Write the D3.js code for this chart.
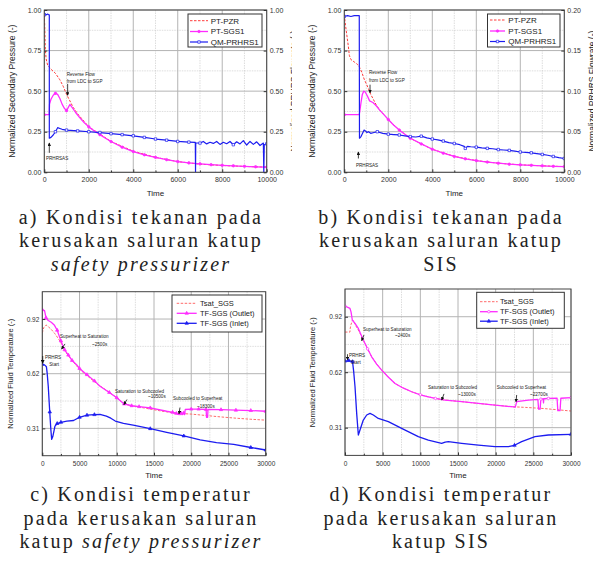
<!DOCTYPE html>
<html>
<head>
<meta charset="utf-8">
<script src="https://cdn.jsdelivr.net/npm/d3@7"></script>
<style>
  body { margin: 0; background: #fff; }
  svg { display: block; }
  .caption { font-family: "Liberation Serif", "Times New Roman", serif; font-size: 20px; letter-spacing: 2.2px; fill: #222; }
  .lbl { font-family: "Liberation Sans", Arial, sans-serif; fill: #222; }
</style>
</head>
<body>
<script>
// ---- data: [time, value] ----

// a) pressure, safety pressurizer break
var aPZR = [[0,0.97],[20,0.9],[45,0.76],[80,0.70],[150,0.66],[300,0.635],[500,0.61],[700,0.57],[850,0.53],
  [1000,0.48],[1150,0.44],[1300,0.40],[1500,0.36],[2000,0.28],[2500,0.235],[3000,0.19],[4000,0.13],
  [5000,0.092],[6000,0.066],[7000,0.05],[8000,0.042],[9000,0.036],[10000,0.032]];
var aSGS = [[0,0.355],[220,0.355],[235,0.42],[300,0.45],[400,0.475],[500,0.487],[600,0.48],[700,0.455],
  [800,0.42],[900,0.395],[1000,0.38],[1080,0.40],[1150,0.418],[1250,0.40],[1400,0.37],[1600,0.335],
  [1800,0.305],[2000,0.28],[2250,0.255],[2500,0.232],[2750,0.21],[3000,0.19],[3500,0.155],[4000,0.128],
  [4500,0.108],[5000,0.092],[5500,0.078],[6000,0.066],[6500,0.058],[7000,0.052],[7500,0.047],[8000,0.043],
  [8500,0.04],[9000,0.037],[9500,0.034],[10000,0.032]];
var aQM = [[0,0.97],[50,0.975],[100,0.97],[150,0.975],[200,0.97],[225,0.97],[226,0.21],[300,0.215],[400,0.23],
  [500,0.25],[600,0.275],[700,0.27],[800,0.265],[1000,0.26],[1500,0.255],[2000,0.25],[2500,0.245],[3000,0.238],
  [3500,0.232],[4000,0.225],[4500,0.215],[5000,0.205],[5500,0.198],[6000,0.19],[6500,0.186],[6790,0.184],
  [6800,0],[6810,0.182],[7000,0.18],[7150,0.19],[7300,0.175],[7450,0.185],[7600,0.178],[7750,0.19],
  [7900,0.172],[8050,0.185],[8200,0.176],[8350,0.19],[8500,0.17],[8650,0.188],[8800,0.175],[8950,0.195],
  [9100,0.168],[9250,0.19],[9400,0.172],[9550,0.188],[9700,0.165],[9850,0.18],[9870,0],[9890,0.17],[10000,0.175]];

// b) pressure, SIS break (QM on the right axis, 0..0.2)
var bPZR = [[0,0.97],[60,0.9],[120,0.84],[180,0.78],[230,0.72],[300,0.695],[450,0.68],[600,0.665],[700,0.645],
  [800,0.615],[900,0.575],[1000,0.545],[1100,0.515],[1200,0.48],[1300,0.455],[1450,0.415],[1600,0.385],
  [2000,0.325],[2500,0.26],[3000,0.21],[3500,0.175],[4000,0.142],[5000,0.098],[6000,0.072],[7000,0.056],
  [8000,0.046],[9000,0.04],[10000,0.035]];
var bSGS = [[0,0.355],[680,0.355],[700,0.37],[760,0.43],[820,0.48],[880,0.5],[950,0.495],[1050,0.47],
  [1150,0.44],[1300,0.43],[1450,0.41],[1600,0.385],[1800,0.355],[2000,0.325],[2250,0.29],[2500,0.26],
  [2750,0.235],[3000,0.21],[3500,0.175],[4000,0.142],[4500,0.118],[5000,0.098],[5500,0.083],[6000,0.072],
  [6500,0.063],[7000,0.056],[7500,0.05],[8000,0.046],[8500,0.043],[9000,0.04],[9500,0.037],[10000,0.035]];
var bQM = [[0,0.192],[150,0.193],[300,0.192],[450,0.193],[600,0.193],[680,0.193],[690,0.042],[760,0.044],
  [830,0.048],[900,0.052],[960,0.051],[1030,0.049],[1100,0.050],[1200,0.048],[1350,0.049],[1500,0.050],
  [1750,0.048],[2000,0.047],[2250,0.0465],[2500,0.046],[2750,0.045],[3000,0.044],[3250,0.0435],[3500,0.0445],
  [3750,0.0425],[4000,0.041],[4250,0.040],[4500,0.0385],[4750,0.0365],[5000,0.0355],[5250,0.034],[5450,0.032],
  [5500,0.0295],[5600,0.032],[5750,0.0315],[6000,0.031],[6250,0.030],[6500,0.0295],[6750,0.029],[7000,0.028],
  [7250,0.0275],[7500,0.027],[7750,0.026],[8000,0.025],[8250,0.0245],[8500,0.024],[8750,0.023],[9000,0.022],
  [9250,0.021],[9500,0.0195],[9750,0.018],[10000,0.017]];

// c) temperature, safety pressurizer break
var cTsat = [[0,0.845],[200,0.875],[500,0.89],[800,0.88],[1200,0.865],[1700,0.84],[2200,0.81],[2500,0.79],
  [3000,0.745],[4000,0.69],[5000,0.64],[6000,0.605],[7000,0.57],[8000,0.54],[9000,0.51],[10000,0.48],
  [11000,0.445],[12000,0.435],[14000,0.42],[16000,0.405],[18000,0.393],[20000,0.388],[22000,0.38],
  [24000,0.372],[26000,0.365],[28000,0.359],[30000,0.354]];
var cOut = [[0,0.975],[300,0.97],[500,0.93],[800,0.915],[1200,0.905],[1600,0.89],[2000,0.86],[2500,0.8],
  [3000,0.75],[3500,0.72],[4000,0.69],[4600,0.666],[5000,0.645],[6000,0.61],[7000,0.575],[7750,0.545],
  [9000,0.51],[10000,0.48],[11000,0.445],[12000,0.435],[13000,0.43],[14500,0.423],[16700,0.404],[17500,0.398],
  [18000,0.392],[18300,0.386],[18500,0.39],[18700,0.40],[18800,0.385],[19000,0.395],[19100,0.385],
  [19200,0.414],[20000,0.416],[21000,0.416],[22000,0.414],[22050,0.37],[22200,0.37],[22250,0.414],
  [24000,0.413],[26000,0.41],[28000,0.408],[30000,0.404]];
var cIn = [[0,0.668],[300,0.665],[550,0.655],[650,0.62],[800,0.545],[1000,0.4],[1150,0.3],[1260,0.246],
  [1400,0.26],[1550,0.29],[1700,0.32],[2000,0.335],[2500,0.342],[3300,0.348],[4200,0.352],[5000,0.37],
  [6000,0.382],[7000,0.385],[7750,0.387],[8600,0.377],[9200,0.365],[9800,0.349],[10900,0.336],[12200,0.326],
  [14500,0.306],[16700,0.285],[19000,0.265],[21200,0.243],[23400,0.228],[25700,0.218],[28000,0.2],[30000,0.186]];

// d) temperature, SIS break
var dTsat = [[0,0.838],[650,0.838],[700,0.86],[800,0.88],[1000,0.905],[1200,0.895],[1400,0.875],[1700,0.855],
  [2000,0.83],[2430,0.794],[3000,0.745],[3540,0.701],[4200,0.66],[4870,0.627],[5700,0.59],[6640,0.553],
  [7700,0.528],[8850,0.507],[10000,0.49],[11060,0.479],[12000,0.47],[13270,0.461],[15490,0.452],[17700,0.442],
  [19910,0.433],[22120,0.424],[24000,0.42],[26000,0.415],[28000,0.408],[30000,0.40]];
var dOut = [[0,0.982],[660,0.969],[800,0.95],[970,0.905],[1330,0.886],[1770,0.858],[2430,0.794],[3000,0.745],
  [3540,0.701],[4200,0.66],[4870,0.627],[5700,0.59],[6640,0.553],[7700,0.528],[8850,0.507],[10000,0.49],
  [11060,0.479],[12000,0.47],[13270,0.461],[15490,0.452],[17700,0.442],[19910,0.433],[22120,0.424],
  [22600,0.422],[22800,0.452],[24340,0.461],[25600,0.465],[25700,0.41],[25900,0.41],[26000,0.466],
  [26300,0.468],[26350,0.445],[26400,0.468],[27000,0.47],[28150,0.471],[28250,0.402],[28550,0.402],
  [28650,0.471],[30000,0.474]];
var dIn = [[0,0.677],[500,0.68],[1000,0.674],[1150,0.62],[1330,0.535],[1550,0.387],[1770,0.267],[1990,0.295],
  [2430,0.35],[2880,0.378],[3320,0.387],[3760,0.378],[4420,0.359],[5750,0.341],[7520,0.304],[9730,0.258],
  [11060,0.239],[12830,0.221],[13300,0.228],[13720,0.23],[15490,0.221],[17700,0.211],[19910,0.202],
  [21680,0.202],[22500,0.21],[23450,0.23],[25220,0.258],[26990,0.267],[30000,0.271]];

// tick values
var pressTicks = [0, 0.25, 0.5, 0.75, 1];
var flowTicksB = [0, 0.05, 0.10, 0.15, 0.20];
var tempTicks = [100, 200, 300].map(function(v) { return v / 325; });   // 0.31, 0.62, 0.92
var tempMinor = [150, 250].map(function(v) { return v / 325; });

// annotations: text lines [label, time, value], arrow [[t,v],[t,v]]
var annA = [
  { lines: [['Reverse Flow', 1010, 0.606], ['from LDC to SGP', 1010, 0.5625]], arrow: [[1050, 0.545], [1050, 0.475]] },
  { lines: [['PRHRSAS', 76, 0.087]], arrow: [[225, 0.12], [225, 0.18]] }
];
var annB = [
  { lines: [['Reverse Flow', 1123, 0.617], ['from LDC to SGP', 1123, 0.569]], arrow: [[1170, 0.54], [1170, 0.49]] },
  { lines: [['PRHRSAS', 530, 0.045]], arrow: [[640, 0.085], [640, 0.125]] }
];
var annC = [
  { lines: [['Superheat to Saturation', 2380, 0.824], ['~2500s', 6680, 0.783]], arrow: [[3050, 0.783], [2600, 0.755]] },
  { lines: [['PRHRS', 360, 0.709], ['Start', 940, 0.67]], arrow: [[60, 0.715], [60, 0.675]] },
  { lines: [['Saturation to Subcooled', 9760, 0.516], ['~10500s', 14190, 0.487]], arrow: [[11370, 0.47], [10970, 0.442]] },
  { lines: [['Subcooled to Superheat', 17550, 0.475], ['~18300s', 20770, 0.432]], arrow: [[18490, 0.425], [18360, 0.39]] }
];
var annD = [
  { lines: [['Superheat to Saturation', 2390, 0.855], ['~2400s', 6640, 0.818]], arrow: [[2520, 0.822], [2220, 0.79]] },
  { lines: [['PRHRS', 530, 0.71], ['Start', 800, 0.672]], arrow: [[330, 0.715], [330, 0.685]] },
  { lines: [['Saturation to Subcooled', 11020, 0.532], ['~13000s', 15000, 0.495]], arrow: [[13140, 0.495], [12840, 0.461]] },
  { lines: [['Subcooled to Superheat', 20140, 0.532], ['~22700s', 24560, 0.495]], arrow: [[22790, 0.489], [22700, 0.452]] }
];

var captionA = [[['a) Kondisi tekanan pada', false]], [['kerusakan saluran katup', false]], [['safety pressurizer', true]]];
var captionB = [[['b) Kondisi tekanan pada', false]], [['kerusakan saluran katup', false]], [['SIS', false]]];
var captionC = [[['c) Kondisi temperatur', false]], [['pada kerusakan saluran', false]], [['katup ', false], ['safety pressurizer', true]]];
var captionD = [[['d) Kondisi temperatur', false]], [['pada kerusakan saluran', false]], [['katup SIS', false]]];

var RED = '#ff3a3a', PINK = '#ff2cff', BLUE = '#1c1cf0';
var every500 = function(d) { return d[0] % 500 === 0; };

var svg = d3.select('body').append('svg').attr('width', 593).attr('height', 566);
var defs = svg.append('defs');
defs.append('marker').attr('id', 'arrow')
  .attr('viewBox', '0 0 6 6').attr('refX', 5).attr('refY', 3)
  .attr('markerWidth', 4.5).attr('markerHeight', 4.5).attr('orient', 'auto')
  .append('path').attr('d', 'M0,0L6,3L0,6Z').attr('fill', '#111');

var panels = [
  { id: 'a', left: 44.3, right: 266.7, top: 10, bottom: 172.3,
    xDomain: [0, 10000], xMajor: d3.range(0, 10001, 2000), xMinor: d3.range(1000, 10000, 2000),
    yDomain: [0, 1], yMajor: pressTicks, yMinor: [0.125, 0.375, 0.625, 0.875],
    y2Domain: [0, 1], y2Ticks: pressTicks, tickFont: 7, xPad: 5,
    ytitle: 'Normalized Secondary Pressure (-)', ytitleX: 12, ytitleFont: 8.5,
    y2title: 'Normalized PRHRS Flowrate (-)', y2titleX: 296.5, y2clip: [284, 292],
    timeY: 196, ann: annA,
    series: [
      { data: aPZR, color: RED, width: 1, dash: '2.5,1.5', label: 'PT-PZR' },
      { data: aSGS, color: PINK, width: 1.3, sym: d3.symbolCircle, size: 5, fill: PINK, markAt: every500, label: 'PT-SGS1' },
      { data: aQM, color: BLUE, width: 1.2, sym: d3.symbolSquare, size: 6, fill: '#fff', markAt: every500, label: 'QM-PRHRS1' }
    ],
    legend: { x: 188, y: 14, w: 74, h: 33, rows: [20.7, 31.5, 42], lx0: 190, lx1: 208, tx: 210.7, font: 8 } },
  { id: 'b', left: 344.3, right: 564.3, top: 10, bottom: 172.3,
    xDomain: [0, 10000], xMajor: d3.range(0, 10001, 2000), xMinor: d3.range(1000, 10000, 2000),
    yDomain: [0, 1], yMajor: pressTicks, yMinor: [0.125, 0.375, 0.625, 0.875],
    y2Domain: [0, 0.2], y2Ticks: flowTicksB, tickFont: 7, xPad: 5,
    ytitle: 'Normalized Secondary Pressure (-)', ytitleX: 311.7, ytitleFont: 8.5,
    y2title: 'Normalized PRHRS Flowrate (-)', y2titleX: 594.5, y2clip: [570, 593],
    timeY: 196, ann: annB,
    series: [
      { data: bPZR, color: RED, width: 1, dash: '2.5,1.5', label: 'PT-PZR' },
      { data: bSGS, color: PINK, width: 1.3, sym: d3.symbolCircle, size: 5, fill: PINK, markAt: every500, label: 'PT-SGS1' },
      { data: bQM, color: BLUE, width: 1.2, axis: 'y2', sym: d3.symbolSquare, size: 6, fill: '#fff', markAt: every500, label: 'QM-PRHRS1' }
    ],
    legend: { x: 487.5, y: 14, w: 72.5, h: 33, rows: [20, 31, 41.5], lx0: 490, lx1: 505, tx: 508.3, font: 8 } },
  { id: 'c', left: 42.3, right: 265.7, top: 291.7, bottom: 455.7,
    xDomain: [0, 30000], xMajor: d3.range(0, 30001, 5000), xMinor: d3.range(2500, 30000, 5000),
    yDomain: [50 / 325, 350 / 325], yMajor: tempTicks, yMinor: tempMinor,
    tickFont: 6.5, xPad: 6,
    ytitle: 'Normalized Fluid Temperature (-)', ytitleX: 10, ytitleFont: 7.5,
    timeY: 478, ann: annC,
    series: [
      { data: cTsat, color: '#ff6a6a', width: 1, dash: '2.5,1.5', label: 'Tsat_SGS' },
      { data: cOut, color: PINK, width: 1.3, sym: d3.symbolTriangle, size: 5, fill: PINK, markAt: every500, label: 'TF-SGS (Outlet)' },
      { data: cIn, color: BLUE, width: 1.3, sym: d3.symbolTriangle, size: 5, fill: BLUE, markAt: every500, label: 'TF-SGS (Inlet)' }
    ],
    legend: { x: 172, y: 295, w: 90, h: 37, rows: [303.3, 313.3, 323.3], lx0: 176.7, lx1: 196.7, tx: 200, font: 7.5 } },
  { id: 'd', left: 345, right: 571, top: 289, bottom: 455.4,
    xDomain: [0, 30000], xMajor: d3.range(0, 30001, 5000), xMinor: d3.range(2500, 30000, 5000),
    yDomain: [50 / 325, 350 / 325], yMajor: tempTicks, yMinor: tempMinor,
    tickFont: 6.5, xPad: 6,
    ytitle: 'Normalized Fluid Temperature (-)', ytitleX: 312, ytitleFont: 7.5,
    timeY: 478, ann: annD,
    series: [
      { data: dTsat, color: '#ff6a6a', width: 1, dash: '2.5,1.5', label: 'Tsat_SGS' },
      { data: dOut, color: PINK, width: 1.3, sym: d3.symbolCircle, size: 5, fill: '#fff', markAt: every500, label: 'TF-SGS (Outlet)' },
      { data: dIn, color: BLUE, width: 1.3, sym: d3.symbolTriangle, size: 5, fill: BLUE, markAt: every500, label: 'TF-SGS (Inlet)' }
    ],
    legend: { x: 476.7, y: 292.3, w: 87.6, h: 36, rows: [301.7, 311.7, 321.2], lx0: 480, lx1: 497.7, tx: 500, font: 7.5 } }
];

function styleAxis(sel, font) {
  sel.select('.domain').remove();
  sel.attr('font-family', '"Liberation Sans", Arial, sans-serif').attr('font-size', font);
  sel.selectAll('.tick line').attr('stroke', '#333');
  sel.selectAll('.tick text').attr('fill', '#333');
}

function drawPanel(p) {
  var x = d3.scaleLinear().domain(p.xDomain).range([p.left, p.right]);
  var y = d3.scaleLinear().domain(p.yDomain).range([p.bottom, p.top]);
  var y2 = p.y2Domain ? d3.scaleLinear().domain(p.y2Domain).range([p.bottom, p.top]) : y;
  var g = svg.append('g');

  // grid
  var grid = g.append('g');
  grid.selectAll('.vmin').data(p.xMinor).join('line')
    .attr('x1', function(d) { return x(d); }).attr('x2', function(d) { return x(d); })
    .attr('y1', p.top).attr('y2', p.bottom)
    .attr('stroke', '#cfcfcf').attr('stroke-width', 0.7).attr('stroke-dasharray', '1.5,1');
  grid.selectAll('.hmin').data(p.yMinor).join('line')
    .attr('x1', p.left).attr('x2', p.right)
    .attr('y1', function(d) { return y(d); }).attr('y2', function(d) { return y(d); })
    .attr('stroke', '#cfcfcf').attr('stroke-width', 0.7).attr('stroke-dasharray', '1.5,1');
  grid.selectAll('.vmaj').data(p.xMajor).join('line')
    .attr('x1', function(d) { return x(d); }).attr('x2', function(d) { return x(d); })
    .attr('y1', p.top).attr('y2', p.bottom)
    .attr('stroke', '#b4b4b4').attr('stroke-width', 1);
  grid.selectAll('.hmaj').data(p.yMajor).join('line')
    .attr('x1', p.left).attr('x2', p.right)
    .attr('y1', function(d) { return y(d); }).attr('y2', function(d) { return y(d); })
    .attr('stroke', '#b4b4b4').attr('stroke-width', 1);

  // series
  defs.append('clipPath').attr('id', 'clip-' + p.id).append('rect')
    .attr('x', p.left).attr('y', p.top - 2).attr('width', p.right - p.left).attr('height', p.bottom - p.top + 2);
  var plot = g.append('g').attr('clip-path', 'url(#clip-' + p.id + ')');
  p.series.forEach(function(s) {
    var ys = s.axis === 'y2' ? y2 : y;
    var line = d3.line().x(function(d) { return x(d[0]); }).y(function(d) { return ys(d[1]); });
    plot.append('path').datum(s.data).attr('d', line)
      .attr('fill', 'none').attr('stroke', s.color).attr('stroke-width', s.width)
      .attr('stroke-dasharray', s.dash || null).attr('stroke-linejoin', 'round');
    if (s.sym) {
      plot.append('g').selectAll('path').data(s.data.filter(s.markAt)).join('path')
        .attr('transform', function(d) { return 'translate(' + x(d[0]) + ',' + ys(d[1]) + ')'; })
        .attr('d', d3.symbol().type(s.sym).size(s.size))
        .attr('fill', s.fill).attr('stroke', s.color).attr('stroke-width', 0.7);
    }
  });

  // frame
  g.append('rect').attr('x', p.left).attr('y', p.top)
    .attr('width', p.right - p.left).attr('height', p.bottom - p.top)
    .attr('fill', 'none').attr('stroke', '#444').attr('stroke-width', 1);

  // axes
  g.append('g').attr('transform', 'translate(0,' + p.bottom + ')')
    .call(d3.axisBottom(x).tickValues(p.xMajor).tickFormat(d3.format('d')).tickSizeInner(-3).tickSizeOuter(0).tickPadding(p.xPad))
    .call(styleAxis, p.tickFont);
  g.append('g').attr('transform', 'translate(0,' + p.bottom + ')')
    .call(d3.axisBottom(x).tickValues(p.xMinor).tickFormat('').tickSizeInner(-1.8).tickSizeOuter(0))
    .call(styleAxis, p.tickFont);
  g.append('g').attr('transform', 'translate(' + p.left + ',0)')
    .call(d3.axisLeft(y).tickValues(p.yMajor).tickFormat(d3.format('.2f')).tickSizeInner(-3).tickSizeOuter(0).tickPadding(3))
    .call(styleAxis, p.tickFont);
  if (p.y2Ticks) {
    g.append('g').attr('transform', 'translate(' + p.right + ',0)')
      .call(d3.axisRight(y2).tickValues(p.y2Ticks).tickFormat(d3.format('.2f')).tickSizeInner(-3).tickSizeOuter(0).tickPadding(3))
      .call(styleAxis, p.tickFont);
  }

  // titles
  var midY = (p.top + p.bottom) / 2;
  g.append('text').attr('class', 'lbl')
    .attr('transform', 'translate(' + p.ytitleX + ',' + midY + ') rotate(-90)')
    .attr('text-anchor', 'middle').attr('dy', '0.35em')
    .attr('font-size', p.ytitleFont).text(p.ytitle);
  if (p.y2title) {
    defs.append('clipPath').attr('id', 'clipT-' + p.id).append('rect')
      .attr('x', p.y2clip[0]).attr('y', 0).attr('width', p.y2clip[1] - p.y2clip[0]).attr('height', 200);
    g.append('g').attr('clip-path', 'url(#clipT-' + p.id + ')')
      .append('text').attr('class', 'lbl')
      .attr('transform', 'translate(' + p.y2titleX + ',' + midY + ') rotate(-90)')
      .attr('text-anchor', 'middle')
      .attr('font-size', p.ytitleFont).text(p.y2title);
  }
  g.append('text').attr('class', 'lbl')
    .attr('x', (p.left + p.right) / 2).attr('y', p.timeY)
    .attr('text-anchor', 'middle').attr('font-size', 8).text('Time');

  // annotations
  p.ann.forEach(function(a) {
    a.lines.forEach(function(l) {
      g.append('text').attr('class', 'lbl')
        .attr('x', x(l[1])).attr('y', y(l[2])).attr('dy', '0.35em')
        .attr('font-size', 4.6).attr('fill', '#333').text(l[0]);
    });
    g.append('line')
      .attr('x1', x(a.arrow[0][0])).attr('y1', y(a.arrow[0][1]))
      .attr('x2', x(a.arrow[1][0])).attr('y2', y(a.arrow[1][1]))
      .attr('stroke', '#111').attr('stroke-width', 0.8).attr('marker-end', 'url(#arrow)');
  });

  // legend
  var L = p.legend;
  var lg = g.append('g');
  lg.append('rect').attr('x', L.x).attr('y', L.y).attr('width', L.w).attr('height', L.h)
    .attr('fill', '#fff').attr('stroke', '#333').attr('stroke-width', 1);
  p.series.forEach(function(s, i) {
    var ry = L.rows[i];
    lg.append('line').attr('x1', L.lx0).attr('x2', L.lx1).attr('y1', ry).attr('y2', ry)
      .attr('stroke', s.color).attr('stroke-width', s.width).attr('stroke-dasharray', s.dash || null);
    if (s.sym) {
      lg.append('path').attr('transform', 'translate(' + (L.lx0 + L.lx1) / 2 + ',' + ry + ')')
        .attr('d', d3.symbol().type(s.sym).size(s.size))
        .attr('fill', s.fill).attr('stroke', s.color).attr('stroke-width', 0.7);
    }
    lg.append('text').attr('class', 'lbl').attr('x', L.tx).attr('y', ry).attr('dy', '0.35em')
      .attr('font-size', L.font).text(s.label);
  });
}

panels.forEach(drawPanel);

// captions
function drawCaption(lines, cx, y0, step) {
  lines.forEach(function(segs, i) {
    var t = svg.append('text').attr('class', 'caption')
      .attr('x', cx).attr('y', y0 + i * step).attr('text-anchor', 'middle');
    segs.forEach(function(s) {
      t.append('tspan').attr('font-style', s[1] ? 'italic' : null).text(s[0]);
    });
  });
}
drawCaption(captionA, 141, 224, 23.3);
drawCaption(captionB, 441, 224, 23.3);
drawCaption(captionC, 141, 501, 23.5);
drawCaption(captionD, 441, 501, 23.5);
</script>
</body>
</html>
